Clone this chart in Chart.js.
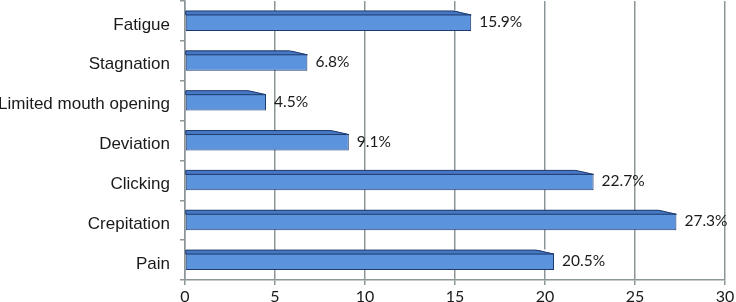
<!DOCTYPE html>
<html>
<head>
<meta charset="utf-8">
<script src="https://cdn.jsdelivr.net/npm/chart.js@4/dist/chart.umd.min.js"></script>
<style>
  html, body { margin: 0; padding: 0; background: #fff; }
  #wrap { width: 736px; height: 302px; position: relative; }
</style>
</head>
<body>
<div id="wrap"><canvas id="c"></canvas></div>
<script>
// síntomas, de arriba a abajo
const categories = ['Fatigue', 'Stagnation', 'Limited mouth opening', 'Deviation', 'Clicking', 'Crepitation', 'Pain'];
const percentages = [15.9, 6.8, 4.5, 9.1, 22.7, 27.3, 20.5];
const xTicks = [0, 5, 10, 15, 20, 25, 30];

const GRID = '#8c9698';
const FILL = '#5b94dc';
const TOP = '#4677c2';
const EDGE = '#1f3a6e';

// cara superior "3D" y etiqueta de valor
const bevelAndLabels = {
  id: 'bevelAndLabels',
  afterDatasetsDraw(chart) {
    const ctx = chart.ctx;
    const meta = chart.getDatasetMeta(0);
    ctx.save();
    meta.data.forEach((bar, i) => {
      const top = bar.y - bar.height / 2;
      const d = 4, s = 18;
      // recorte de la esquina
      ctx.fillStyle = '#fff';
      ctx.beginPath();
      ctx.moveTo(bar.x - s, top - 0.5);
      ctx.lineTo(bar.x + 1, top - 0.5);
      ctx.lineTo(bar.x + 1, top + d);
      ctx.closePath();
      ctx.fill();
      // cara superior
      ctx.fillStyle = TOP;
      ctx.strokeStyle = EDGE;
      ctx.lineWidth = 1;
      ctx.beginPath();
      ctx.moveTo(bar.base, top);
      ctx.lineTo(bar.x - s, top);
      ctx.lineTo(bar.x, top + d);
      ctx.lineTo(bar.base, top + d);
      ctx.closePath();
      ctx.fill();
      ctx.stroke();
      // etiqueta
      ctx.fillStyle = '#1a1a1a';
      ctx.font = '15.5px Lato, "Open Sans", sans-serif';
      ctx.textAlign = 'left';
      ctx.textBaseline = 'middle';
      ctx.fillText(percentages[i].toFixed(1) + '%', bar.x + 8, bar.y + 1);
    });
    ctx.restore();
  },
};

new Chart(document.getElementById('c'), {
  type: 'bar',
  data: {
    labels: categories,
    datasets: [{
      data: percentages,
      backgroundColor: FILL,
      borderColor: EDGE,
      borderWidth: 1,
      borderSkipped: false,
      categoryPercentage: 1,
      barPercentage: 0.5,
    }],
  },
  options: {
    indexAxis: 'y',
    responsive: true, maintainAspectRatio: false,
    animation: false,
    layout: { padding: { top: 1, right: 11, left: 0, bottom: 0 } },
    plugins: { legend: { display: false }, tooltip: { enabled: false } },
    scales: {
      x: {
        min: 0, max: 30,
        afterBuildTicks: (s) => { s.ticks = xTicks.map(v => ({ value: v })); },
        afterFit: (s) => { s.height = 22; s.paddingLeft = 0; s.paddingRight = 0; },
        grid: { color: GRID, lineWidth: 1.5, tickLength: 5 },
        border: { color: GRID, width: 1.5 },
        ticks: { color: '#1a1a1a', font: { family: 'Lato, "Open Sans", sans-serif', size: 16 }, padding: 2, maxRotation: 0 },
      },
      y: {
        afterFit: (s) => { s.width = 185; s.paddingTop = 0; s.paddingBottom = 0; },
        grid: { drawOnChartArea: false, color: GRID, lineWidth: 1.5, tickLength: 5, offset: true },
        border: { color: GRID, width: 1.5 },
        ticks: { color: '#1a1a1a', font: { family: '"Liberation Sans", Arial, sans-serif', size: 17 }, padding: 10, labelOffset: 4 },
      },
    },
  },
  plugins: [bevelAndLabels],
});
</script>
</body>
</html>
